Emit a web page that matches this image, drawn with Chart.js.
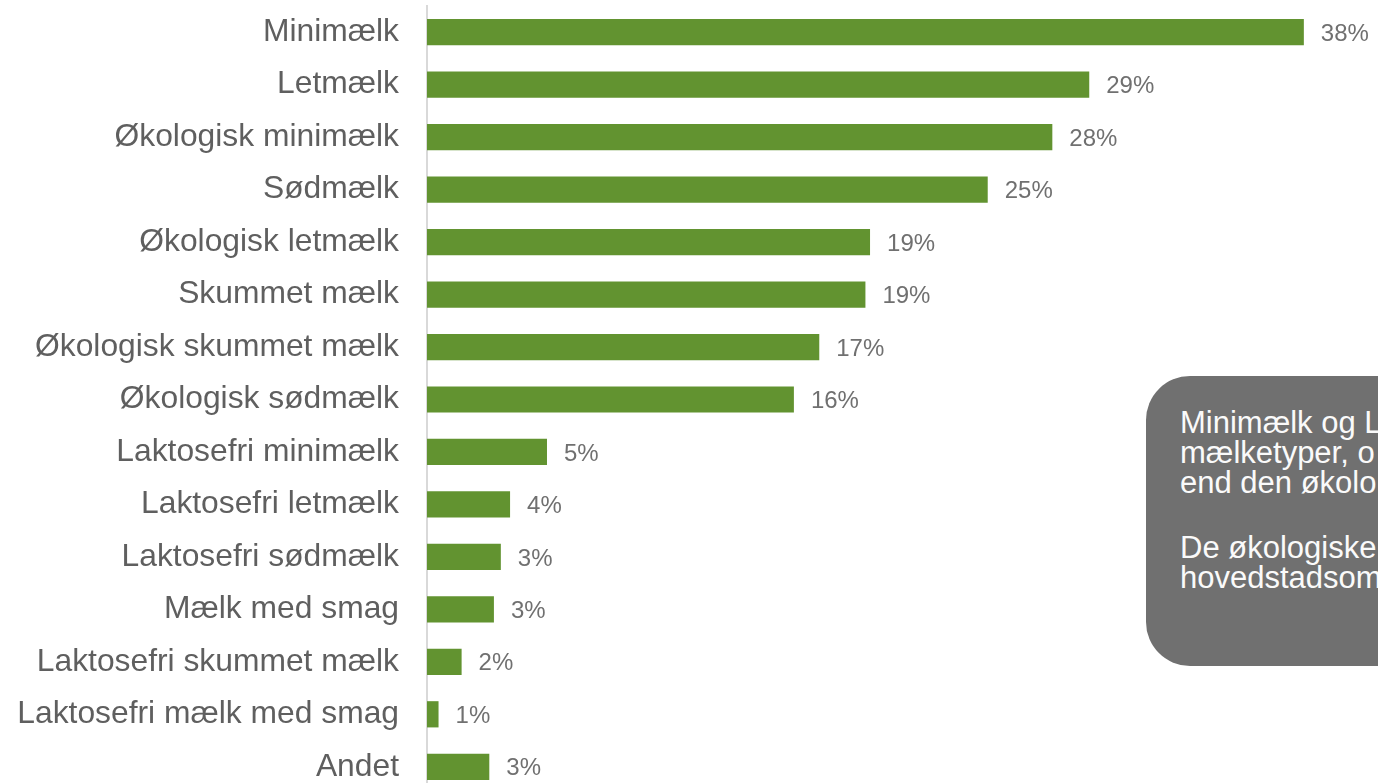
<!DOCTYPE html>
<html>
<head>
<meta charset="utf-8">
<script src="https://cdn.jsdelivr.net/npm/chart.js@4"></script>
<style>
  html, body { margin: 0; padding: 0; background: #fff; overflow: hidden; }
  #wrap { position: relative; width: 1378px; height: 783px; overflow: hidden; }
  #chart-box { position: absolute; left: 0; top: 0; width: 1378px; height: 800px; }
  .note {
    position: absolute; left: 1146px; top: 376px; width: 420px; height: 290px;
    background: #707070; border-radius: 44px; color: #fafafa;
    font-family: "Liberation Sans", Arial, sans-serif; font-size: 31px; line-height: 30px;
    box-sizing: border-box; padding: 32px 0 0 34px; white-space: nowrap;
  }
  .note p { margin: 0 0 35px 0; }
</style>
</head>
<body>
<div id="wrap">
  <div id="chart-box"><canvas id="milkChart" width="1378" height="800"></canvas></div>
  <div class="note">
    <p>Minimælk og L<br>mælketyper, o<br>end den økolo</p>
    <p>De økologiske<br>hovedstadsom</p>
  </div>
</div>
<script>
const categories = [
  'Minimælk', 'Letmælk', 'Økologisk minimælk', 'Sødmælk', 'Økologisk letmælk',
  'Skummet mælk', 'Økologisk skummet mælk', 'Økologisk sødmælk', 'Laktosefri minimælk',
  'Laktosefri letmælk', 'Laktosefri sødmælk', 'Mælk med smag', 'Laktosefri skummet mælk',
  'Laktosefri mælk med smag', 'Andet'
];
const shares = [38, 28.7, 27.1, 24.3, 19.2, 19.0, 17.0, 15.9, 5.2, 3.6, 3.2, 2.9, 1.5, 0.5, 2.7];
const shareLabels = ['38%', '29%', '28%', '25%', '19%', '19%', '17%', '16%', '5%', '4%', '3%', '3%', '2%', '1%', '3%'];
const axisMax = 40;

// value labels at the end of each bar
const valueLabels = {
  id: 'valueLabels',
  afterDatasetsDraw(chart) {
    const ctx = chart.ctx;
    const meta = chart.getDatasetMeta(0);
    ctx.save();
    ctx.font = '24px "Liberation Sans", Arial, sans-serif';
    ctx.fillStyle = '#707070';
    ctx.textBaseline = 'middle';
    ctx.textAlign = 'left';
    meta.data.forEach((bar, i) => {
      ctx.fillText(shareLabels[i], bar.x + 17, bar.y + 2);
    });
    ctx.restore();
  }
};

new Chart(document.getElementById('milkChart'), {
  type: 'bar',
  data: {
    labels: categories,
    datasets: [{
      data: shares,
      backgroundColor: '#629330',
      borderWidth: 0,
      categoryPercentage: 1,
      barPercentage: 0.5
    }]
  },
  options: {
    indexAxis: 'y',
    responsive: false,
    animation: false,
    layout: { padding: { top: 6, bottom: 7, left: 0, right: 28 } },
    plugins: { legend: { display: false }, tooltip: { enabled: false } },
    scales: {
      x: { display: false, min: 0, max: axisMax },
      y: {
        afterFit(scale) {
          scale.width = 427;
          scale.paddingTop = 0;
          scale.paddingBottom = 0;
        },
        grid: { display: true, drawOnChartArea: false, drawTicks: false },
        border: { display: true, color: '#d9d9d9', width: 2 },
        ticks: {
          padding: 28,
          color: '#5f5f5f',
          font: { family: '"Liberation Sans", Arial, sans-serif', size: 31.8 }
        }
      }
    }
  },
  plugins: [valueLabels]
});
</script>
</body>
</html>
